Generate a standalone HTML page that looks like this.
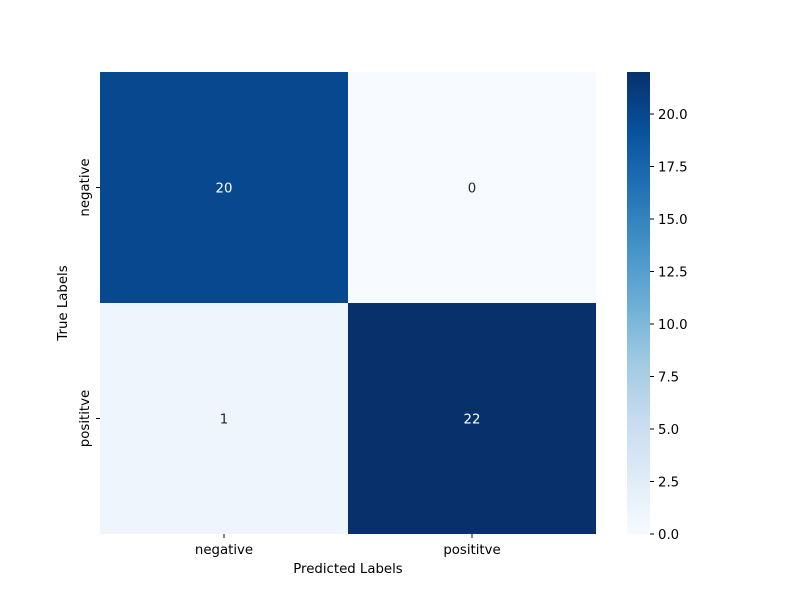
<!DOCTYPE html>
<html><head><meta charset="utf-8"><style>
body{margin:0;background:#fff}
text{font-family:"DejaVu Sans","Liberation Sans",sans-serif;font-size:13.3px}
</style></head><body>
<svg id="c" width="800" height="600">
<defs><linearGradient id="blues" x1="0" y1="1" x2="0" y2="0">
<stop offset="0" stop-color="#f7fbff"/><stop offset="0.125" stop-color="#deebf7"/>
<stop offset="0.25" stop-color="#c6dbef"/><stop offset="0.375" stop-color="#9ecae1"/>
<stop offset="0.5" stop-color="#6baed6"/><stop offset="0.625" stop-color="#4292c6"/>
<stop offset="0.75" stop-color="#2171b5"/><stop offset="0.875" stop-color="#08519c"/>
<stop offset="1" stop-color="#08306b"/></linearGradient></defs>
</svg>
<script>
const categories=["negative","posititve"];
const row0=[20,0];
const row1=[1,22];
const cbTicks=[0,2.5,5,7.5,10,12.5,15,17.5,20];
const vmax=22;
const svg=document.getElementById('c');
const NS='http://www.w3.org/2000/svg';
function el(t,a,txt){const e=document.createElementNS(NS,t);for(const k in a)e.setAttribute(k,a[k]);if(txt!==undefined)e.textContent=txt;svg.appendChild(e);return e;}
const L=100,T=72,W=496,H=462;
const cw=W/categories.length,ch=H/categories.length;
const stops=[[247,251,255],[222,235,247],[198,219,239],[158,202,225],[107,174,214],[66,146,198],[33,113,181],[8,81,156],[8,48,107]];
function color(v){let t=Math.max(0,Math.min(1,v/vmax))*8;let i=Math.min(7,Math.floor(t));let f=t-i;const a=stops[i],b=stops[i+1];return 'rgb('+a.map((x,k)=>Math.round(x+(b[k]-x)*f)).join(',')+')';}
const rows=[row0,row1];
rows.forEach((r,ri)=>r.forEach((v,ci)=>{
const x=L+ci*cw,y=T+ri*ch;
const rc=el('rect',{x:x,y:y,width:cw,height:ch,fill:color(v)});


const tx=el('text',{x:x+cw/2,y:y+ch/2+5,'text-anchor':'middle',fill:v>vmax/2?'#fff':'#262626'},v);


}));
categories.forEach((c,i)=>{
const x=L+(i+0.5)*cw;
el('line',{x1:x,x2:x,y1:T+H,y2:T+H+4,stroke:'#000'});
const t=el('text',{x:x,y:T+H+20,'text-anchor':'middle'},c);


const y=T+(i+0.5)*ch;
el('line',{x1:L-4,x2:L,y1:y,y2:y,stroke:'#000'});
const t2=el('text',{x:0,y:0,'text-anchor':'middle',transform:'translate('+(L-11)+','+y+') rotate(-90)'},c);


});
const xt=el('text',{x:L+W/2,y:573,'text-anchor':'middle'},'Predicted Labels');


const yt=el('text',{x:0,y:0,'text-anchor':'middle',transform:'translate(67,'+(T+H/2)+') rotate(-90)'},'True Labels');


const cbX=627,cbW=23;
const cb=el('rect',{x:cbX,y:T,width:cbW,height:H,fill:'url(#blues)'});


cbTicks.forEach(v=>{
const y=T+H-v/vmax*H;
el('line',{x1:cbX+cbW,x2:cbX+cbW+4,y1:y,y2:y,stroke:'#000'});
const t=el('text',{x:cbX+cbW+8,y:y+5},v.toFixed(1));


});
</script>
</body></html>
